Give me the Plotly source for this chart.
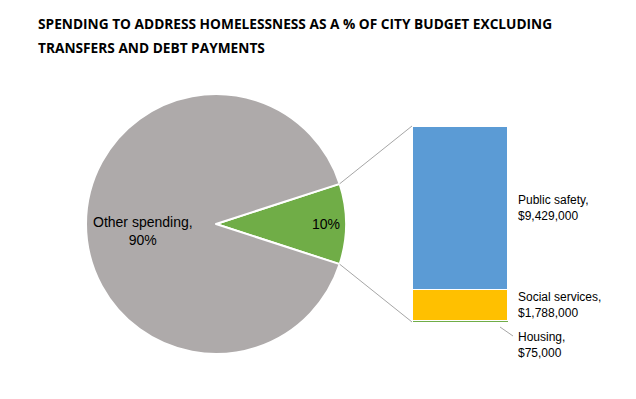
import math
import plotly.graph_objects as go

# ---- data ----
pie_labels = ["Homelessness", "Other spending"]
pie_values = [10, 90]
pie_colors = ["#70AD47", "#AEAAAA"]

bar_categories = ["Housing", "Social services", "Public safety"]
bar_values = [75000, 1788000, 9429000]
bar_colors = ["#70AD47", "#FFC000", "#5B9BD5"]
bar_border_widths = [0, 1.5, 1.5]

title_lines = ["SPENDING TO ADDRESS HOMELESSNESS AS A % OF CITY BUDGET EXCLUDING",
               "TRANSFERS AND DEBT PAYMENTS"]

# ---- layout geometry (pixels) ----
W, H = 636, 399
cx, cy, r = 216, 224, 130
bx0, bx1, btop, bbot = 413, 508, 127, 322

def px(x):
    return x / W

def py(y):
    return 1 - y / H

fig = go.Figure()

total_pct = sum(pie_values)
green_frac = pie_values[0] / total_pct
half_deg = green_frac * 360 / 2

fig.add_trace(go.Pie(
    labels=pie_labels, values=pie_values, sort=False, direction="clockwise",
    rotation=90 - half_deg,
    marker=dict(colors=pie_colors, line=dict(color="white", width=2)),
    textinfo="none", hoverinfo="label+percent", showlegend=False,
    domain=dict(x=[px(cx - r), px(cx + r)], y=[py(cy + r), py(cy - r)]),
))

for cat, val, col, bw in zip(bar_categories, bar_values, bar_colors, bar_border_widths):
    fig.add_trace(go.Bar(
        x=[0], y=[val], name=cat, width=1,
        marker=dict(color=col, line=dict(color="white", width=bw)),
        showlegend=False, xaxis="x", yaxis="y",
    ))

bar_total = sum(bar_values)
fig.update_layout(
    width=W, height=H, margin=dict(l=0, r=0, t=0, b=0),
    paper_bgcolor="white", plot_bgcolor="white",
    barmode="stack", bargap=0,
    xaxis=dict(domain=[px(bx0), px(bx1)], range=[-0.5, 0.5], visible=False, fixedrange=True),
    yaxis=dict(domain=[py(bbot), py(btop)], range=[0, bar_total], visible=False, fixedrange=True),
    font=dict(family="Liberation Sans, Arial, sans-serif", size=12, color="#000000"),
)

# connector lines from pie wedge edges to bar corners
a = math.radians(half_deg)
ex = cx + r * math.cos(a)
ey_top = cy - r * math.sin(a)
ey_bot = cy + r * math.sin(a)
line_style = dict(color="#A6A6A6", width=1)
fig.add_shape(type="line", xref="paper", yref="paper",
              x0=px(ex), y0=py(ey_top), x1=px(bx0 - 1), y1=py(btop - 1), line=line_style)
fig.add_shape(type="line", xref="paper", yref="paper",
              x0=px(ex), y0=py(ey_bot), x1=px(bx0 - 1), y1=py(bbot), line=line_style)

# title
title_font = dict(family="Open Sans, Arial, sans-serif", size=13.7, color="#000000")
for i, t in enumerate(title_lines):
    fig.add_annotation(text=f"<b>{t}</b>", xref="paper", yref="paper",
                       x=px(35.5), y=py(12 + 24 * i), xanchor="left", yanchor="top",
                       showarrow=False, font=title_font)

# pie labels
fig.add_annotation(text=f"{pie_labels[1]},<br>{pie_values[1]}%", xref="paper", yref="paper",
                   x=px(143), y=py(231), xanchor="center", yanchor="middle",
                   showarrow=False, align="center", font=dict(size=14))
fig.add_annotation(text=f"{pie_values[0]}%", xref="paper", yref="paper",
                   x=px(326), y=py(224), xanchor="center", yanchor="middle",
                   showarrow=False, font=dict(size=14))

# bar labels
def money(v):
    return f"${v:,.0f}"

cum = 0
label_y = {}
for cat, val in zip(bar_categories, bar_values):
    label_y[cat] = cum + val / 2
    cum += val

fig.add_annotation(text=f"{bar_categories[2]},<br>{money(bar_values[2])}", xref="paper", yref="y",
                   x=px(516), y=label_y[bar_categories[2]], xanchor="left", yanchor="middle",
                   showarrow=False, align="left", font=dict(size=12))
fig.add_annotation(text=f"{bar_categories[1]},<br>{money(bar_values[1])}", xref="paper", yref="y",
                   x=px(516), y=label_y[bar_categories[1]], xanchor="left", yanchor="middle",
                   showarrow=False, align="left", font=dict(size=12))
fig.add_annotation(text=f"{bar_categories[0]},<br>{money(bar_values[0])}", xref="paper", yref="paper",
                   x=px(516), y=py(345), xanchor="left", yanchor="middle",
                   showarrow=False, align="left", font=dict(size=12))
fig.add_shape(type="line", xref="paper", yref="paper",
              x0=px(500), y0=py(327), x1=px(513), y1=py(336), line=line_style)

fig.write_html("out.html", config={"displayModeBar": False},
               post_script="document.body.style.margin='0';")
